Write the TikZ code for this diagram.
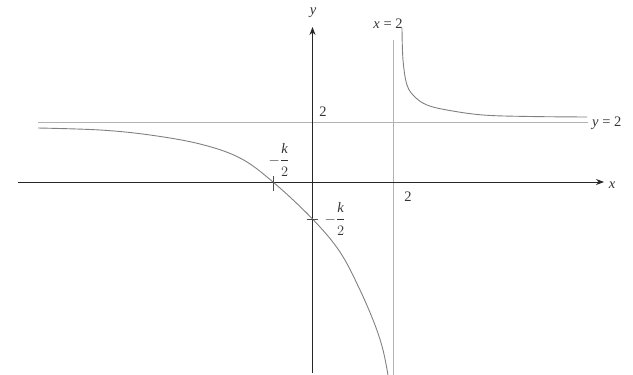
\documentclass[tikz,border=0pt]{standalone}
\usepackage{amsmath}
\usepackage{fontspec}
\setmainfont{Liberation Serif}
\usetikzlibrary{arrows.meta}
\begin{document}
\begin{tikzpicture}[x=1pt,y=-1pt,
  axis/.style={line width=0.9pt, black!85, -{Stealth[length=8pt,width=6pt]}},
  asym/.style={line width=0.8pt, black!30},
  curve/.style={line width=0.9pt, black!50},
  lab/.style={font=\fontsize{14.5}{16}\selectfont, inner sep=0pt, text=black!80},
  tickmark/.style={line width=0.7pt, black!70}]
\useasboundingbox (0,0) rectangle (633,375);
% axes and asymptotes
\coordinate (xl) at (18,182);
\coordinate (xr) at (604,182);
\coordinate (yb) at (312.5,373);
\coordinate (yt) at (312.5,27);
\coordinate (hl) at (38,122.5);
\coordinate (hr) at (588,122.5);
\coordinate (vt) at (393,40);
\coordinate (vb) at (393,375);
\draw[asym] (hl) -- (hr);
\draw[asym] (vt) -- (vb);
\draw[axis] (xl) -- (xr);
\draw[axis] (yb) -- (yt);
% branches
\draw[curve] plot[smooth, tension=0.6] coordinates {(38,128) (100,130) (150,135) (200,144) (240,158) (273,182) (312.5,219) (340,252) (360,290) (375,325) (383,350) (388,375)};
\draw[curve] plot[smooth, tension=0.6] coordinates {(402,28) (403,60) (407,85) (415,97) (427,105) (447,110) (483,115) (530,116.5) (587,117)};
% ticks
\coordinate (xi) at (273,182);
\coordinate (yi) at (312.5,219);
\draw[tickmark] ([yshift=6pt]xi) -- ([yshift=-9pt]xi);
\draw[tickmark] ([xshift=-6pt]yi) -- ([xshift=5pt]yi);
% labels
\node[lab] (ylab) at (313,13) {\textit{y}};
\node[lab] (xlab) at (612,185) {\textit{x}};
\node[lab] (xeq) at (388,24) {\textit{x} = 2};
\node[lab, anchor=west] (yeq) at (592,123) {\textit{y} = 2};
\node[lab] (two1) at (323,112) {2};
\node[lab] (two2) at (408,197) {2};
\node[lab] (kx) at (279,160) {$-\dfrac{\textit{k}\rule[-5pt]{0pt}{0pt}}{\rule{0pt}{14pt}2}$};
\node[lab] (ky) at (335,219) {$-\dfrac{\textit{k}\rule[-5pt]{0pt}{0pt}}{\rule{0pt}{14pt}2}$};
\end{tikzpicture}
\end{document}
